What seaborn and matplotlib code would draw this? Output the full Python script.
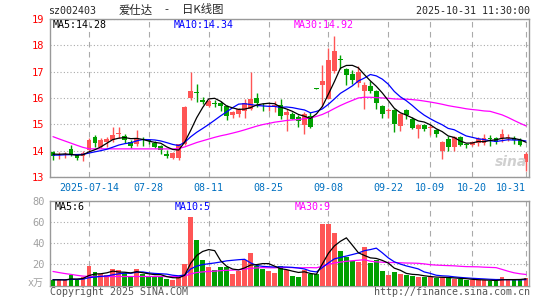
import numpy as np
import pandas as pd
import matplotlib
matplotlib.use('Agg')
import matplotlib.pyplot as plt
import seaborn as sns

# daily K, 2025-07-04 .. 2025-10-31 (80 trading days)
opens = [13.96, 13.82, 13.84, 14.07, 13.84, 13.78, 14.03, 14.53, 14.15, 14.34,
         14.40, 14.63, 14.57, 14.34, 14.24, 14.42, 14.40, 14.30, 14.19, 13.87,
         13.72, 13.74, 14.24, 16.00, 16.24, 15.92, 15.69, 15.80, 15.82, 15.69,
         15.37, 15.41, 15.49, 15.59, 15.99, 15.71, 15.68, 15.66, 15.74, 15.37,
         15.41, 15.28, 14.97, 15.32, 16.36, 16.48, 15.98, 17.02, 17.48, 17.11,
         16.92, 16.56, 16.25, 16.47, 16.25, 15.69, 15.50, 15.53, 14.94, 15.53,
         15.19, 14.84, 14.99, 14.86, 14.78, 13.99, 14.43, 14.15, 14.53, 14.24,
         14.22, 14.28, 14.28, 14.48, 14.47, 14.47, 14.48, 14.50, 14.40, 13.56]
closes = [13.81, 13.85, 13.87, 13.86, 13.74, 13.90, 14.40, 14.28, 14.40, 14.44,
          14.59, 14.66, 14.40, 14.19, 14.49, 14.39, 14.35, 14.15, 14.03, 13.80,
          13.90, 14.24, 15.66, 16.26, 16.20, 15.84, 15.87, 15.77, 15.69, 15.32,
          15.47, 15.59, 15.82, 15.97, 15.82, 15.68, 15.71, 15.74, 15.32, 15.47,
          15.22, 15.12, 15.41, 14.89, 16.34, 16.65, 17.46, 17.77, 17.44, 16.86,
          16.67, 16.98, 16.50, 16.25, 15.82, 15.41, 15.54, 15.03, 15.41, 15.37,
          14.87, 14.97, 14.82, 14.89, 14.62, 14.32, 14.15, 14.53, 14.22, 14.21,
          14.34, 14.44, 14.49, 14.46, 14.34, 14.62, 14.50, 14.40, 14.22, 13.86]
highs = [13.99, 13.94, 13.95, 14.22, 13.87, 13.99, 14.49, 14.59, 14.47, 14.53,
         14.88, 14.88, 14.62, 14.40, 14.80, 14.50, 14.45, 14.36, 14.22, 14.03,
         13.95, 14.27, 15.68, 16.97, 16.53, 16.03, 15.95, 15.91, 15.87, 15.74,
         15.51, 15.62, 15.97, 16.97, 16.20, 15.82, 15.78, 15.87, 15.97, 15.59,
         15.46, 15.36, 15.46, 15.47, 16.37, 17.27, 17.90, 18.36, 17.62, 17.15,
         17.05, 17.20, 16.60, 16.66, 16.30, 15.74, 15.62, 15.57, 15.44, 15.60,
         15.28, 15.00, 15.03, 14.97, 14.84, 14.37, 14.57, 14.57, 14.57, 14.28,
         14.37, 14.53, 14.65, 14.59, 14.53, 14.84, 14.62, 14.57, 14.47, 13.94]
lows = [13.65, 13.69, 13.72, 13.78, 13.65, 13.61, 13.99, 14.15, 14.09, 14.15,
        14.34, 14.47, 14.28, 14.12, 14.19, 14.19, 14.25, 14.10, 13.86, 13.71,
        13.68, 13.65, 14.20, 15.91, 15.84, 15.78, 15.65, 15.66, 15.49, 15.16,
        15.24, 15.29, 15.24, 15.53, 15.66, 15.49, 15.49, 15.47, 15.22, 14.74,
        15.20, 14.90, 14.62, 14.86, 16.33, 15.64, 15.95, 16.96, 17.10, 16.48,
        16.55, 16.40, 15.60, 16.20, 15.57, 15.24, 15.24, 14.69, 14.74, 15.20,
        14.84, 14.49, 14.74, 14.59, 14.53, 13.69, 13.99, 13.99, 14.19, 14.09,
        14.19, 14.19, 14.22, 14.19, 14.24, 14.34, 14.37, 14.24, 14.19, 13.21]
# 万手
volumes = [4.9, 4.9, 5.5, 9.6, 5.5, 7.8, 18.8, 12.8, 10.9, 10.0,
           16.0, 14.3, 11.8, 7.8, 16.0, 10.5, 9.5, 7.8, 7.8, 6.5,
           5.5, 8.7, 20.0, 65.0, 43.5, 24.5, 17.6, 15.0, 17.2, 17.2,
           11.0, 14.0, 24.0, 31.0, 19.0, 16.0, 14.0, 12.0, 19.0, 14.5,
           8.7, 7.8, 15.0, 11.0, 11.0, 58.0, 58.0, 50.0, 33.0, 27.4,
           23.0, 22.4, 37.0, 21.5, 24.7, 13.6, 9.8, 13.0, 11.4, 9.8,
           9.0, 8.0, 8.0, 8.0, 7.0, 8.0, 7.0, 6.0, 6.0, 5.5,
           5.0, 5.0, 5.0, 4.5, 4.5, 8.0, 6.0, 5.0, 5.0, 7.5]

# days before 07-04, not drawn, only so the MAs start at the left edge
prev_closes = [16.4, 16.3, 16.3, 16.2, 16.2, 16.1,
               14.3, 14.4, 14.45, 14.6, 14.65, 14.4, 14.2, 14.5, 14.4, 14.35, 14.15, 14.05, 13.8,
               13.9, 13.85, 13.75, 13.8, 13.7, 13.85, 13.9, 13.8, 13.95, 13.9]
prev_volumes = [36, 34, 33, 32, 30, 30,
                13, 11, 12, 15, 14, 12, 8, 15, 10, 10, 8, 8, 7,
                6, 5, 7, 6, 5, 6, 5, 6, 5, 6]

tick_pos = [6, 16, 26, 36, 46, 56, 63, 70, 79]
tick_labels = ['2025-07-14', '07-28', '08-11', '08-25', '09-08', '09-22', '10-09', '10-20', '10-31']

W, H = 545, 300
RED = '#ff5555'
GREEN = '#00a000'
GRID = '#aaaaaa'
MONO = 'DejaVu Sans Mono'

sns.set_style('white')
plt.rcParams['font.family'] = ['DejaVu Sans', 'Noto Sans CJK SC']

df = pd.DataFrame({'open': opens, 'close': closes, 'high': highs, 'low': lows, 'vol': volumes})
df['i'] = range(len(df))
df['color'] = np.where(df['close'] >= df['open'], 'up', 'down')

all_close = pd.Series(prev_closes + closes)
all_vol = pd.Series(prev_volumes + volumes)
n0 = len(prev_closes)
for w in (5, 10, 30):
    df[f'ma{w}'] = all_close.rolling(w).mean().iloc[n0:].values
    df[f'vma{w}'] = all_vol.rolling(w).mean().iloc[n0:].values

fig = plt.figure(figsize=(W / 100, H / 100), dpi=100)


def box(x0, y0, x1, y1):
    # pixel box -> figure fraction
    return [x0 / W, 1 - y1 / H, (x1 - x0) / W, (y1 - y0) / H]


ax = fig.add_axes(box(50, 19, 529, 177))
axv = fig.add_axes(box(50, 201.3, 529, 285.5))

# candles
for up, col in ((True, RED), (False, GREEN)):
    d = df[(df['close'] >= df['open']) == up]
    ax.vlines(d['i'], d['low'], d['high'], color=col, lw=1, zorder=2)
    body = (d['close'] - d['open']).abs().clip(lower=0.03)
    ax.bar(d['i'], body, bottom=d[['open', 'close']].min(axis=1), width=0.8,
           color=col, lw=0, zorder=3)

for col, c in (('ma30', '#ff00ff'), ('ma10', '#0000ff'), ('ma5', 'black')):
    sns.lineplot(data=df, x='i', y=col, color=c, lw=0.9, ax=ax, zorder=4)

# volume
sns.barplot(data=df, x='i', y='vol', hue='color', palette={'up': RED, 'down': GREEN},
            dodge=False, saturation=1, width=0.8, errorbar=None, legend=False,
            linewidth=0, ax=axv, zorder=3)
for col, c in (('vma30', '#ff00ff'), ('vma10', '#0000ff'), ('vma5', 'black')):
    sns.lineplot(data=df, x='i', y=col, color=c, lw=0.9, ax=axv, zorder=4)

for a in (ax, axv):
    a.set_xlim(-0.5, 79.5)
    a.set_xticks(tick_pos)
    a.set_axisbelow(True)
    a.grid(axis='x', ls=(0, (5, 4)), color=GRID, lw=0.8)
    a.grid(axis='y', ls=(0, (1, 2)), color=GRID, lw=0.8)
    a.set_xlabel('')
    a.set_ylabel('')
    for s in a.spines.values():
        s.set_color('#999999')
        s.set_linewidth(1)

ax.set_ylim(13, 19)
ax.set_yticks(range(13, 20))
ax.set_yticklabels([str(v) for v in range(13, 20)], color='red', family=MONO, fontsize=7.5)
ax.set_xticklabels(tick_labels, color='#0070c0', family=MONO, fontsize=7.2)
ax.get_xticklabels()[-1].set_horizontalalignment('right')
ax.tick_params(length=0, pad=4)

axv.set_ylim(0, 80)
axv.set_yticks([0, 20, 40, 60, 80])
axv.set_yticklabels(['', '20', '40', '60', '80'], color='#a0a0a0', family=MONO, fontsize=7.5)
axv.set_xticklabels([''] * len(tick_pos))
axv.tick_params(length=0, pad=4)


def txt(x, y, s, **kw):
    kw.setdefault('family', MONO)
    kw.setdefault('fontsize', 7.2)
    fig.text(x / W, 1 - y / H, s, va='center', **kw)


CJK = ['Noto Sans CJK SC', 'DejaVu Sans']
txt(48, 10.5, 'sz002403')
txt(119, 10, '爱仕达', family=CJK, fontsize=8.2)
txt(164, 10, '-', family=CJK, fontsize=8.2)
txt(181.5, 10, '日K线图', family=CJK, fontsize=8.2)
txt(530, 10.5, '2025-10-31 11:30:00', ha='right')
txt(53, 25, 'MA5:14.28', color='black')
txt(174, 25, 'MA10:14.34', color='#0000ff')
txt(294, 25, 'MA30:14.92', color='#ff00ff')
txt(55, 206.5, 'MA5:6', color='black')
txt(175, 206.5, 'MA10:5', color='#0000ff')
txt(295, 206.5, 'MA30:9', color='#ff00ff')
txt(44, 283, 'x万', ha='right', color='#a0a0a0', family=['DejaVu Sans Mono', 'Noto Sans CJK SC'])
txt(50, 292, 'Copyright 2025 SINA.COM', color='#555555')
txt(530, 292, 'http://finance.sina.com.cn', ha='right', color='#555555')
txt(511, 162, 'sina', ha='center', color='#d0d0d0', family='DejaVu Sans',
    fontsize=10, fontweight='bold', fontstyle='italic')

fig.savefig('out.png', dpi=100)
